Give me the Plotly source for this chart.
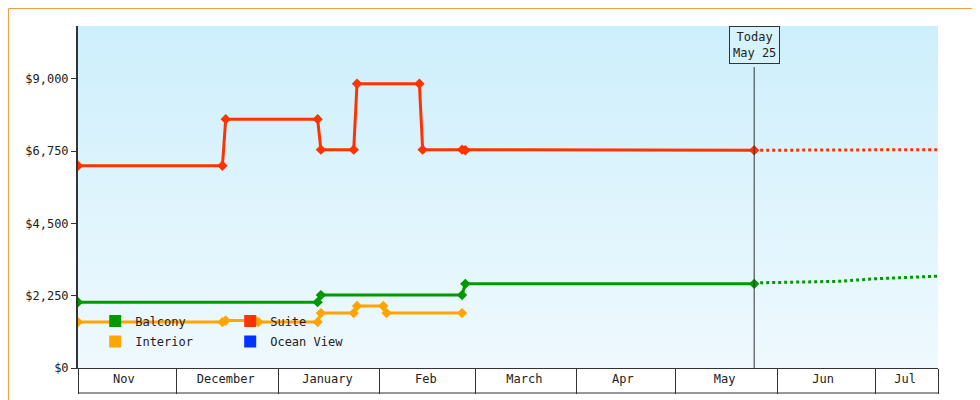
import plotly.graph_objects as go

suite_dates = ["2023-11-01", "2023-12-15", "2023-12-16", "2024-01-13", "2024-01-14", "2024-01-24", "2024-01-25",
               "2024-02-13", "2024-02-14", "2024-02-26", "2024-02-27", "2024-05-25"]
suite_prices = [6300, 6300, 7750, 7750, 6800, 6800, 8850, 8850, 6800, 6800, 6780, 6780]
suite_fc_dates = ["2024-05-25", "2024-06-21", "2024-06-24", "2024-07-20"]
suite_fc_prices = [6780, 6780, 6800, 6800]

balcony_dates = ["2023-11-01", "2024-01-13", "2024-01-14", "2024-02-26", "2024-02-27", "2024-05-25"]
balcony_prices = [2050, 2050, 2270, 2270, 2620, 2620]
balcony_fc_dates = ["2024-05-25", "2024-06-20", "2024-07-01", "2024-07-20"]
balcony_fc_prices = [2650, 2700, 2780, 2860]

interior_dates = ["2023-11-01", "2023-12-15", "2023-12-16", "2023-12-25", "2023-12-26", "2024-01-13", "2024-01-14",
                  "2024-01-24", "2024-01-25", "2024-02-02", "2024-02-03", "2024-02-26"]
interior_prices = [1430, 1430, 1480, 1480, 1430, 1430, 1710, 1710, 1930, 1930, 1710, 1710]

month_starts = ["2023-11-01", "2023-12-01", "2024-01-01", "2024-02-01", "2024-03-01", "2024-04-01",
                "2024-05-01", "2024-06-01", "2024-07-01", "2024-07-20"]
month_mids = ["2023-11-15", "2023-12-16", "2024-01-16", "2024-02-15", "2024-03-16", "2024-04-15",
              "2024-05-16", "2024-06-15", "2024-07-10"]
month_labels = ["Nov", "December", "January", "Feb", "March", "Apr", "May", "Jun", "Jul"]

today = "2024-05-25"
GREEN, RED, ORANGE, BLUE = "#009900", "#ff3300", "#ffa500", "#0033ff"
FONT = "DejaVu Sans Mono"

fig = go.Figure()

# gradient background
fig.add_trace(go.Scatter(
    x=["2023-11-01", "2024-07-20", "2024-07-20", "2023-11-01", "2023-11-01"],
    y=[0, 0, 10650, 10650, 0], fill="toself", mode="none", hoverinfo="skip", showlegend=False,
    fillgradient=dict(type="vertical", colorscale=[[0, "#eff9fe"], [1, "#cdeffc"]])))

for d, p, c in [(suite_dates, suite_prices, RED), (balcony_dates, balcony_prices, GREEN),
                (interior_dates, interior_prices, ORANGE)]:
    fig.add_trace(go.Scatter(x=d, y=p, mode="lines+markers", line=dict(color=c, width=3),
                             marker=dict(symbol="diamond", size=8, color=c), showlegend=False))
for d, p, c in [(suite_fc_dates, suite_fc_prices, RED), (balcony_fc_dates, balcony_fc_prices, GREEN)]:
    fig.add_trace(go.Scatter(x=d, y=p, mode="lines", line=dict(color=c, width=3, dash="dot"), showlegend=False))

# legend entries
for name, c, lg in [("Balcony", GREEN, "legend"), ("Suite", RED, "legend"),
                    ("Interior", ORANGE, "legend2"), ("Ocean View", BLUE, "legend2")]:
    fig.add_trace(go.Scatter(x=[None], y=[None], mode="markers", name=name, legend=lg,
                             marker=dict(symbol="square", size=12, color=c)))

# month dividers on a second overlaid axis
fig.add_trace(go.Scatter(x=month_starts, y=[None] * len(month_starts), xaxis="x2", showlegend=False))

fig.add_shape(type="line", xref="x", yref="paper", x0=today, x1=today, y0=0, y1=0.88,
              line=dict(color="#333", width=1))
fig.add_annotation(x=today, y=1, xref="x", yref="paper", yanchor="top", text="Today<br>May 25",
                   showarrow=False, bordercolor="#333", borderwidth=1, borderpad=3,
                   bgcolor="#d6f2fd", font=dict(family=FONT, size=12, color="#222"))
fig.add_shape(type="line", xref="paper", yref="paper", x0=0, x1=1, y0=-25 / 342, y1=-25 / 342,
              line=dict(color="#333", width=1))
fig.add_shape(type="rect", xref="paper", yref="paper", x0=-69.5 / 860, x1=1 + 49.5 / 860,
              y0=-39.5 / 342, y1=1 + 17.5 / 342, line=dict(color="#f0a040", width=1))

fig.update_layout(
    width=980, height=400, margin=dict(l=70, r=50, t=18, b=40, autoexpand=False),
    paper_bgcolor="white", plot_bgcolor="white",
    font=dict(family=FONT, size=12, color="#222"),
    xaxis=dict(range=["2023-11-01", "2024-07-20"], tickvals=month_mids, ticktext=month_labels,
               ticks="", showgrid=False, zeroline=False, showline=True, linecolor="#333", linewidth=1,
               automargin=False),
    xaxis2=dict(overlaying="x", matches="x", side="bottom", tickvals=month_starts, showticklabels=False,
                ticks="outside", ticklen=25, tickcolor="#333", showgrid=False, zeroline=False,
                automargin=False),
    yaxis=dict(range=[0, 10650], tickvals=[0, 2250, 4500, 6750, 9000],
               ticktext=["$0", "$2,250", "$4,500", "$6,750", "$9,000"], ticks="outside", ticklen=5,
               tickcolor="#333", showgrid=False, zeroline=False, showline=True, linecolor="#333", linewidth=2,
               automargin=False),
    legend=dict(orientation="h", x=0.02, y=0.18, yanchor="top", bgcolor="rgba(0,0,0,0)",
                entrywidth=90, itemwidth=30, font=dict(size=12), tracegroupgap=0),
    legend2=dict(orientation="h", x=0.02, y=0.12, yanchor="top", bgcolor="rgba(0,0,0,0)",
                 entrywidth=90, itemwidth=30, font=dict(size=12)),
)

fig.write_html("out.html")
